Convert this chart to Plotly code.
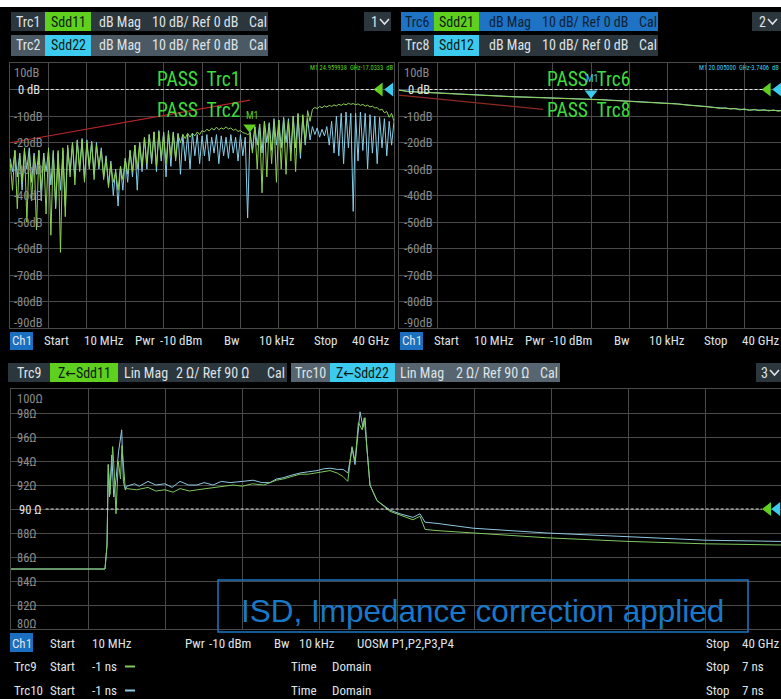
import plotly.graph_objects as go
import numpy as np

W, H = 781, 699
FONT = "Roboto Condensed, Noto Sans Condensed, Liberation Sans Narrow, DejaVu Sans Condensed, sans-serif"

# ------------------------------------------------------------------ data
# top-left: return loss, linear sweep 10 MHz .. 40 GHz (GHz)
f_refl = np.linspace(0.01, 40, 161)
sdd11 = [-27, -38, -23, -45, -24, -35, -22, -50, -23, -42, -25, -53, -23, -38, -24, -47, -22,
         -55, -24, -44, -23, -61.5, -22, -48, -21,
         -33, -20, -36, -19.5, -31, -19, -35, -20, -30, -20, -34, -21, -29, -23,
         -34, -26, -37, -28, -35, -31, -38, -29, -34, -26,
         -32, -23, -31, -21, -30, -20, -29, -18, -28, -17,
         -27, -16, -29, -16, -26, -16.5, -28, -16, -25, -16.5, -27, -17,
         -20, -17, -18.5, -16.5, -18, -16.5, -17.5, -16, -17, -15.5,
         -16, -15, -15.6, -14.6, -15.3, -14.2, -15.2, -14.5, -14.9, -14.1, -14.9, -14.5, -15.4, -15, -15.8, -15.5, -16.3, -16.5,
         -17, -16.5,
         -24, -14, -30, -13, -39, -12, -33, -13, -28, -12, -35, -11.5, -30, -11, -32, -12, -27, -10, -31, -9, -24, -9.5, -20, -8, -12,
         -7.5, -6.8, -7.2, -6.4, -6.9, -6.2, -6.6, -6.0, -6.4, -5.8, -6.2, -5.6, -6.0, -5.4, -5.8, -5.2, -5.6, -5.3, -5.8, -5.4,
         -6.0, -5.6, -6.3, -5.9, -6.6, -6.3, -7.0, -6.8, -7.8, -7.4, -8.8, -8.3, -10.5, -9, -12]
sdd22 = [-26, -31, -23, -33, -24, -38, -23, -30, -22, -35, -24, -32, -23, -42, -24, -31, -23,
         -36, -23, -45, -24, -38, -23, -44, -22,
         -31, -20, -33, -19, -30, -18.5, -34, -19, -29, -19.5, -32, -20, -30, -22,
         -33, -25, -36, -27, -40, -30, -44, -29, -38, -26,
         -35, -23, -33, -21, -38, -20, -31, -18, -30, -17,
         -28, -16, -31, -15.5, -27, -16, -33, -15.5, -29, -16, -26, -16.5, -32, -17, -27, -17, -30, -16.5, -25, -17, -28, -17.5,
         -25, -17, -27, -18, -24, -17, -28, -17.5, -25, -18, -26, -17, -24, -18, -27, -17, -25, -18,
         -48.5, -16,
         -23, -14, -21, -13, -24, -12, -20, -12.5, -23, -11, -21, -11.5, -22, -10.5, -20, -11, -24, -10,
         -22, -9.5, -26, -10, -21, -11, -19,
         -14, -17, -14.5, -18, -15, -17.5, -14, -21, -12, -24,
         -10, -25, -9, -28, -8.5, -22, -9, -46, -9, -27, -8.5, -23, -9, -30, -9.5, -24, -10, -28, -10.5, -22, -11, -25,
         -12, -21, -12]
lim1_f = [0.01, 25.0]
lim1_db = [-20.1, -4.0]
m1_tl = (24.96, -17.03)

# top-right: transmission
f_trans = [0.01, 1, 2, 3, 4, 5, 6, 7, 8, 9, 10, 11, 12, 13, 14, 15, 16, 17, 18, 19, 20, 21, 22, 23, 24,
           25, 26, 27, 28, 29, 30, 31, 32, 33, 33.5, 34, 34.5, 35, 35.5, 36, 36.5, 37, 37.5, 38, 38.5,
           39, 39.5, 40]
sdd21 = [-0.3, -0.8, -1.0, -1.2, -1.4, -1.6, -1.8, -2.0, -2.1, -2.3, -2.5, -2.6, -2.8, -2.9, -3.0,
         -3.1, -3.3, -3.4, -3.5, -3.6, -3.74, -3.9, -4.1, -4.3, -4.5, -4.7, -4.9, -5.0, -5.2, -5.5,
         -5.9, -6.1, -6.5, -6.9, -7.2, -6.9, -7.4, -7.1, -7.7, -7.3, -7.9, -7.5, -8.0, -7.6, -8.1,
         -7.7, -8.2, -7.8]
sdd12 = [-0.2, -0.7, -0.9, -1.1, -1.3, -1.5, -1.7, -1.9, -2.0, -2.2, -2.4, -2.5, -2.7, -2.8, -2.9,
         -3.0, -3.2, -3.3, -3.4, -3.5, -3.65, -3.8, -4.0, -4.2, -4.4, -4.6, -4.8, -4.9, -5.1, -5.4,
         -5.8, -6.0, -6.4, -6.8, -7.0, -7.1, -7.2, -7.3, -7.5, -7.5, -7.7, -7.7, -7.8, -7.8, -7.9,
         -7.9, -8.0, -8.0]
lim2_f = [0.01, 15.0]
lim2_db = [-2.1, -7.5]
m1_tr = (20.005, -3.74)

# bottom: time-domain impedance (ns, Ohm)
t_trc9 = [-1.0, -0.026, -0.005, 0.0, 0.008, 0.026, 0.054, 0.07, 0.088, 0.112, 0.135, 0.15, 0.17, 0.185,
          0.2, 0.3, 0.42, 0.5, 0.596, 0.68, 0.751, 0.85, 0.93, 1.093, 1.2, 1.3, 1.4, 1.5, 1.62, 1.75,
          1.82, 1.995, 2.08, 2.171, 2.306, 2.38, 2.441, 2.49, 2.534, 2.565, 2.6, 2.64, 2.66, 2.689,
          2.72, 2.793, 2.928, 3.031, 3.166, 3.238, 3.29, 3.415, 3.788, 4.554, 5.394, 6.192, 6.979]
z_trc9 = [85.0, 85.0, 87.0, 90.5, 93.7, 91.2, 95.2, 93.0, 89.6, 94.0, 92.5, 95.3, 93.0, 91.6,
          91.7, 91.6, 91.8, 91.5, 91.6, 91.4, 91.7, 91.5, 91.6, 91.8, 91.9, 92.0, 91.9, 92.1, 92.0, 92.4,
          92.5, 92.9, 92.9, 93.0, 93.2, 93.0, 92.7, 92.3, 95.2, 94.0, 97.2, 96.6, 97.6, 95.0,
          92.0, 90.7, 89.8, 89.5, 89.1, 89.4, 88.3, 88.2, 88.0, 87.6, 87.3, 87.1, 87.0]
t_trc10 = [-1.0, -0.026, -0.005, 0.0, 0.008, 0.02, 0.045, 0.065, 0.09, 0.115, 0.147, 0.165, 0.185,
           0.2, 0.28, 0.33, 0.42, 0.5, 0.596, 0.67, 0.751, 0.84, 0.927, 1.0, 1.093, 1.18, 1.27, 1.4,
           1.508, 1.6, 1.684, 1.75, 1.819, 1.9, 1.995, 2.08, 2.171, 2.24, 2.306, 2.38, 2.441, 2.492,
           2.534, 2.565, 2.617, 2.648, 2.669, 2.689, 2.72, 2.793, 2.928, 3.031, 3.166, 3.238, 3.29,
           3.415, 3.788, 4.554, 5.394, 6.192, 6.979]
z_trc10 = [85.0, 85.0, 87.0, 90.5, 93.7, 91.0, 94.5, 91.0, 92.6, 94.8, 96.6, 92.3, 91.6,
           91.9, 92.1, 91.9, 92.3, 92.0, 92.1, 91.8, 92.3, 92.0, 92.0, 92.2, 92.0, 92.3, 92.2, 92.3,
           92.4, 92.2, 92.2, 92.5, 92.6, 92.8, 93.0, 93.1, 93.2, 93.35, 93.4, 93.3, 93.3, 93.0,
           95.1, 93.7, 98.1, 96.8, 97.6, 95.0, 92.0, 90.7, 89.9, 89.6, 89.3, 89.6, 88.9,
           88.8, 88.4, 88.0, 87.7, 87.4, 87.3]

db_ticks = [10, 0, -10, -20, -30, -40, -50, -60, -70, -80, -90]
ohm_ticks = [100, 98, 96, 94, 92, 90, 88, 86, 84, 82, 80]

GREEN = "#8fd14f"
BLUE = "#86cfe8"
GRID = "#4a4a4a"
RED = "#b8262b"

# ------------------------------------------------------------------ helpers
def X(px):
    return px / W


def Y(py):
    return 1 - py / H


shapes = []
annotations = []


def box(x0, y0, x1, y1, color):
    shapes.append(dict(type="rect", xref="paper", yref="paper", x0=X(x0), x1=X(x1),
                       y0=Y(y1), y1=Y(y0), fillcolor=color, line_width=0, layer="below"))


def chevron(x0, yc, color="#dfe3e6"):
    path = f"M {X(x0)},{Y(yc - 2.5)} L {X(x0 + 4.5)},{Y(yc + 2.5)} L {X(x0 + 9)},{Y(yc - 2.5)}"
    shapes.append(dict(type="path", xref="paper", yref="paper", path=path,
                       line=dict(color=color, width=1.6)))


def txt(s, px, py, size=13, color="#dfe3e6", anchor="left", family=FONT):
    annotations.append(dict(text=s, x=X(px), y=Y(py), xref="paper", yref="paper",
                            xanchor=anchor, yanchor="middle", showarrow=False,
                            font=dict(size=size, color=color, family=family)))


HS = 14    # header font size
FS = 13    # footer font size

fig = go.Figure()

# ------------------------------------------------------------------ traces
# top-left
fig.add_trace(go.Scatter(x=f_refl, y=sdd22, mode="lines", line=dict(color=BLUE, width=1),
                         xaxis="x", yaxis="y"))
fig.add_trace(go.Scatter(x=f_refl, y=sdd11, mode="lines", line=dict(color=GREEN, width=1),
                         xaxis="x", yaxis="y"))
fig.add_trace(go.Scatter(x=lim1_f, y=lim1_db, mode="lines", line=dict(color=RED, width=1.2),
                         xaxis="x", yaxis="y"))
fig.add_trace(go.Scatter(x=[m1_tl[0]], y=[m1_tl[1] + 2.8], mode="markers",
                         marker=dict(symbol="triangle-down", size=11, color="#5fd01e"),
                         xaxis="x", yaxis="y"))
fig.add_trace(go.Scatter(x=[38.5, 39.6], y=[0, 0], mode="markers",
                         marker=dict(symbol="triangle-left", size=12, color=["#5fd01e", "#3ccbee"]),
                         xaxis="x", yaxis="y"))
# top-right
fig.add_trace(go.Scatter(x=f_trans, y=sdd12, mode="lines", line=dict(color=BLUE, width=1),
                         xaxis="x2", yaxis="y2"))
fig.add_trace(go.Scatter(x=f_trans, y=sdd21, mode="lines", line=dict(color=GREEN, width=1),
                         xaxis="x2", yaxis="y2"))
fig.add_trace(go.Scatter(x=lim2_f, y=lim2_db, mode="lines", line=dict(color="#8e2a22", width=1.2),
                         xaxis="x2", yaxis="y2"))
fig.add_trace(go.Scatter(x=[m1_tr[0]], y=[m1_tr[1] + 2.3], mode="markers",
                         marker=dict(symbol="triangle-down", size=11, color="#3ccbee"),
                         xaxis="x2", yaxis="y2"))
fig.add_trace(go.Scatter(x=[38.4, 39.5], y=[0, 0], mode="markers",
                         marker=dict(symbol="triangle-left", size=12, color=["#5fd01e", "#3ccbee"]),
                         xaxis="x2", yaxis="y2"))
# bottom
fig.add_trace(go.Scatter(x=t_trc10, y=z_trc10, mode="lines", line=dict(color="#8fc8e0", width=1),
                         xaxis="x3", yaxis="y3"))
fig.add_trace(go.Scatter(x=t_trc9, y=z_trc9, mode="lines", line=dict(color="#7ec860", width=1),
                         xaxis="x3", yaxis="y3"))
fig.add_trace(go.Scatter(x=[6.845, 6.94], y=[90, 90], mode="markers",
                         marker=dict(symbol="triangle-left", size=12, color=["#5fd01e", "#3ccbee"]),
                         xaxis="x3", yaxis="y3"))

# ------------------------------------------------------------------ axes
def ax(domain, rng, dtick, tick0=0):
    return dict(domain=domain, range=rng, dtick=dtick, tick0=tick0, showgrid=True, gridcolor=GRID,
                gridwidth=1, zeroline=False, showticklabels=False, ticks="", showline=True,
                linecolor=GRID, mirror=True, fixedrange=True)


top_y = [Y(328), Y(63)]
fig.update_layout(
    xaxis=ax([X(10), X(394)], [0, 40], 4),
    yaxis=ax(top_y, [-90, 10], 10),
    xaxis2=ax([X(399), 1], [0, 40 * (781 - 399) / 384], 4),
    yaxis2=ax(top_y, [-90, 10], 10),
    xaxis3=ax([X(11), 1], [-1, -1 + (781 - 11) * 0.8 / 77.2], 0.8, -1),
    yaxis3=ax([Y(629), Y(389)], [80, 100], 2),
)
fig.layout.yaxis.anchor = "x"
fig.layout.yaxis2.anchor = "x2"
fig.layout.yaxis3.anchor = "x3"
fig.layout.xaxis.anchor = "y"
fig.layout.xaxis2.anchor = "y2"
fig.layout.xaxis3.anchor = "y3"

# reference (dashed) lines
for xr, yr, v, x0, x1 in [("x", "y", 0, 0.08, 0.955), ("x2", "y2", 0, 0.08, 0.955),
                          ("x3", "y3", 90, 0.045, 0.975)]:
    shapes.append(dict(type="line", xref=xr + " domain", yref=yr, x0=x0, x1=x1, y0=v, y1=v,
                       line=dict(color="#e8e8e8", width=1, dash="3px,2px")))

# axis labels inside plots
for v in db_ticks:
    for px, yr in [(12, "y"), (402, "y2")]:
        shift = -9 if v == 10 else (6 if v == -90 else 0)
        s = "0 dB" if v == 0 else f"{v}dB"
        col = "#e6e6e6" if v == 0 else "#8a8a8a"
        annotations.append(dict(text=s, x=X(px + (4 if v == 0 else 0)), y=v, xref="paper", yref=yr,
                                xanchor="left", yanchor="middle", yshift=shift, showarrow=False,
                                font=dict(size=12.5, color=col, family=FONT)))
for v in ohm_ticks:
    shift = -9 if v == 100 else (6 if v == 80 else 0)
    s = "90 Ω" if v == 90 else f"{v}Ω"
    col = "#e6e6e6" if v == 90 else "#8a8a8a"
    annotations.append(dict(text=s, x=X(15 if v != 90 else 17), y=v, xref="paper", yref="y3",
                            xanchor="left", yanchor="middle", yshift=shift, showarrow=False,
                            font=dict(size=12.5, color=col, family=FONT)))

# ------------------------------------------------------------------ header bars
DARK = "#2c363d"
GRAYB = "#4a5964"
GBOX = "#5fd01e"
CBOX = "#3ccbee"
BLUEB = "#1f73c4"
DTXT = "#0c1a10"

# top-left
box(11, 12, 45, 31, DARK); box(45, 12, 91, 31, GBOX); box(91, 12, 268, 31, DARK)
box(11, 35, 45, 56, GRAYB); box(45, 35, 91, 56, CBOX); box(91, 35, 268, 56, GRAYB)
box(364, 12, 391, 31, DARK)
for row, (trc, par) in enumerate([("Trc1", "Sdd11"), ("Trc2", "Sdd22")]):
    yy = 21.5 if row == 0 else 45.5
    txt(trc, 28, yy, size=HS, anchor="center")
    txt(par, 68, yy, size=HS, color=DTXT, anchor="center")
    txt("dB Mag", 97, yy, size=HS)
    txt("10 dB/ Ref 0 dB", 150, yy, size=HS)
    txt("Cal", 247, yy, size=HS)
txt("1", 374, 21.5, size=HS, anchor="center")
chevron(380, 21.5)

# top-right
box(401, 12, 434, 31, BLUEB); box(434, 12, 479, 31, GBOX); box(479, 12, 658, 31, BLUEB)
box(401, 35, 434, 56, DARK); box(434, 35, 479, 56, CBOX); box(479, 35, 658, 56, DARK)
box(752, 12, 781, 31, DARK)
for row, (trc, par, col) in enumerate([("Trc6", "Sdd21", "#0d2236"), ("Trc8", "Sdd12", "#dfe3e6")]):
    yy = 21.5 if row == 0 else 45.5
    txt(trc, 417, yy, size=HS, color=col, anchor="center")
    txt(par, 456, yy, size=HS, color=DTXT, anchor="center")
    txt("dB Mag", 487, yy, size=HS, color=col)
    txt("10 dB/ Ref 0 dB", 540, yy, size=HS, color=col)
    txt("Cal", 637, yy, size=HS, color=col)
txt("2", 762, 21.5, size=HS, anchor="center")
chevron(768, 21.5)

# channel footers (top)
for off in (0, 390):
    box(10 + off, 332, 33 + off, 350, "#1a6fc0")
    txt("Ch1", 21.5 + off, 341, size=FS, anchor="center")
    txt("Start", 42 + off, 341, size=FS)
    txt("10 MHz", 82 + off, 341, size=FS)
    txt("Pwr", 133 + off, 341, size=FS)
    txt("-10 dBm", 158 + off, 341, size=FS)
    txt("Bw", 222 + off, 341, size=FS)
    txt("10 kHz", 257 + off, 341, size=FS)
    txt("Stop", 312 + off, 341, size=FS)
    txt("40 GHz", 350 + off, 341, size=FS)

# bottom header
box(8, 363, 50, 382, DARK); box(50, 363, 118, 382, GBOX); box(118, 363, 287, 382, DARK)
box(291, 363, 330, 382, "#56656f"); box(330, 363, 395, 382, CBOX); box(395, 363, 560, 382, "#56656f")
box(756, 363, 781, 382, DARK)
txt("Trc9", 29, 372.5, size=HS, anchor="center")
txt("Z←Sdd11", 84, 372.5, size=HS, color=DTXT, anchor="center")
txt("Lin Mag", 122, 372.5, size=HS)
txt("2 Ω/ Ref 90 Ω", 174, 372.5, size=HS)
txt("Cal", 265, 372.5, size=HS)
txt("Trc10", 310, 372.5, size=HS, anchor="center")
txt("Z←Sdd22", 362, 372.5, size=HS, color=DTXT, anchor="center")
txt("Lin Mag", 398, 372.5, size=HS)
txt("2 Ω/ Ref 90 Ω", 454, 372.5, size=HS)
txt("Cal", 538, 372.5, size=HS)
txt("3", 764, 372.5, size=HS, anchor="center")
chevron(770, 372.5)

# bottom footers
box(10, 633, 33, 652, "#1a6fc0")
txt("Ch1", 21.5, 643, size=FS, anchor="center")
txt("Start", 48, 643, size=FS); txt("10 MHz", 90, 643, size=FS); txt("Pwr", 183, 643, size=FS)
txt("-10 dBm", 207, 643, size=FS)
txt("Bw", 272, 643, size=FS); txt("10 kHz", 297, 643, size=FS); txt("UOSM P1,P2,P3,P4", 355, 643, size=FS)
txt("Stop", 704, 643, size=FS); txt("40 GHz", 740, 643, size=FS)
for yy, trc, dc in [(666, "Trc9", "#7ec860"), (690, "Trc10", "#8fc8e0")]:
    txt(trc, 12, yy, size=FS); txt("Start", 48, yy, size=FS); txt("-1 ns", 90, yy, size=FS)
    shapes.append(dict(type="rect", xref="paper", yref="paper", x0=X(125), x1=X(135),
                       y0=Y(yy + 1.5), y1=Y(yy - 0.5), fillcolor=dc, line_width=0))
    txt("Time", 289, yy, size=FS); txt("Domain", 330, yy, size=FS)
    txt("Stop", 704, yy, size=FS); txt("7 ns", 740, yy, size=FS)

# PASS / marker labels
PASS = "#3cdc3c"
txt("PASS  Trc1", 155, 80, size=19.5, color=PASS)
txt("PASS  Trc2", 155, 110, size=19.5, color=PASS)
txt("M1", 244, 115, size=10, color="#5fd01e")
txt("M1 24.959938  GHz-17.0333  dB", 395, 68, size=6.5, color="#5fd01e", anchor="right")
txt("PASS  Trc6", 545, 80, size=19.5, color=PASS)
txt("PASS  Trc8", 545, 110, size=19.5, color=PASS)
txt("M1", 584, 79, size=10, color="#3ccbee")
txt("M1 20.005000  GHz-3.7406  dB", 781, 68, size=6.5, color="#3ccbee", anchor="right")

# ISD box
shapes.append(dict(type="rect", xref="paper", yref="paper", x0=X(218), x1=X(748), y0=Y(632), y1=Y(580),
                   line=dict(color="#1a78c8", width=1.5), fillcolor="rgba(0,0,0,0)"))
txt("ISD, Impedance correction applied", 482, 611, size=31.5, color="#1a78c8",
    anchor="center", family="Liberation Sans, Arial, sans-serif")

# white strip at top
shapes.append(dict(type="rect", xref="paper", yref="paper", x0=0, x1=1, y0=Y(7), y1=1,
                   fillcolor="white", line_width=0, layer="above"))

fig.update_layout(width=W, height=H, margin=dict(l=0, r=0, t=0, b=0), paper_bgcolor="black",
                  plot_bgcolor="black", showlegend=False, shapes=shapes, annotations=annotations)
fig.write_html("out.html", config={"displayModeBar": False},
               post_script="document.body.style.margin='0';document.body.style.background='black';")
